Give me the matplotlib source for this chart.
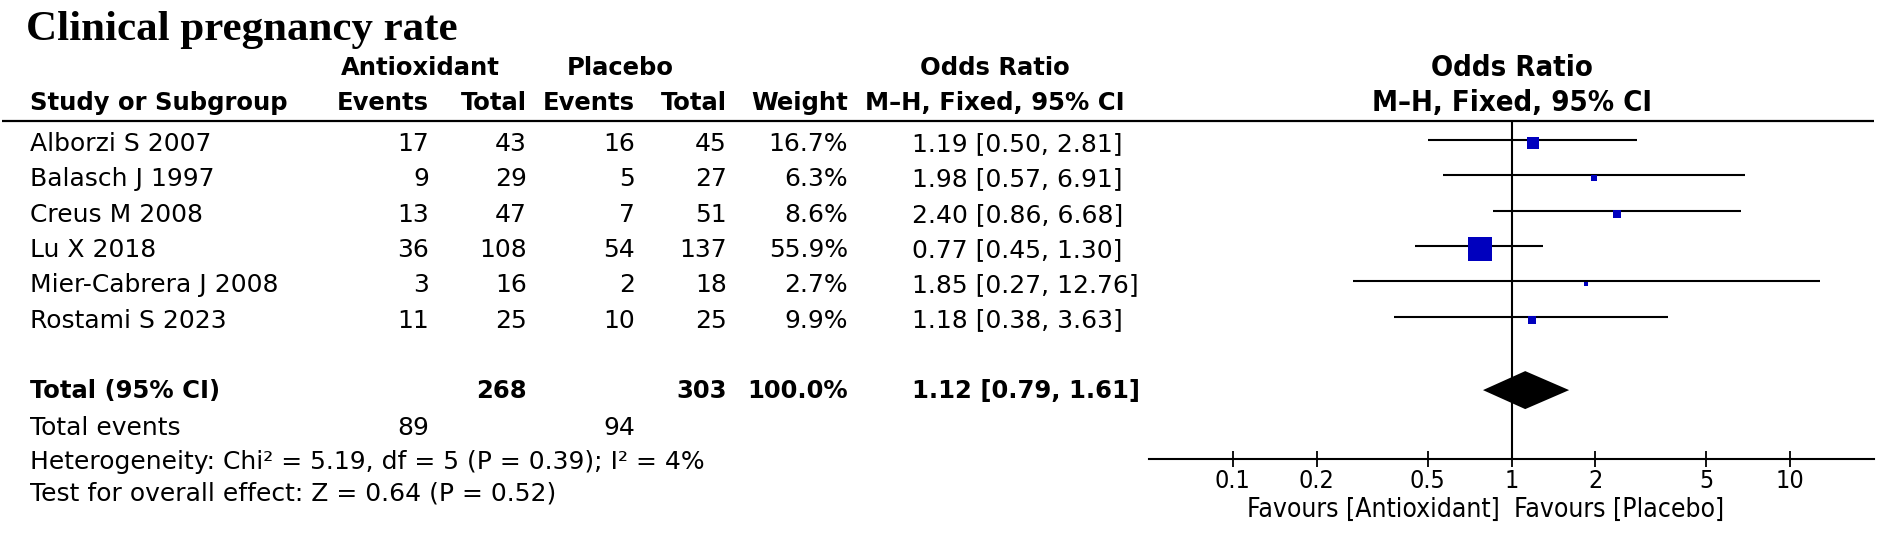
import matplotlib
matplotlib.use("Agg")
import matplotlib.pyplot as plt
import matplotlib.transforms as mtransforms

# ---------------- data ----------------
title = "Clinical pregnancy rate"
studies = ["Alborzi S 2007", "Balasch J 1997", "Creus M 2008", "Lu X 2018",
           "Mier-Cabrera J 2008", "Rostami S 2023"]
events_anti = [17, 9, 13, 36, 3, 11]
total_anti = [43, 29, 47, 108, 16, 25]
events_plac = [16, 5, 7, 54, 2, 10]
total_plac = [45, 27, 51, 137, 18, 25]
weights = [16.7, 6.3, 8.6, 55.9, 2.7, 9.9]
or_est = [1.19, 1.98, 2.40, 0.77, 1.85, 1.18]
ci_lo = [0.50, 0.57, 0.86, 0.45, 0.27, 0.38]
ci_hi = [2.81, 6.91, 6.68, 1.30, 12.76, 3.63]

total_n_anti = 268
total_n_plac = 303
total_weight = 100.0
total_or = 1.12
total_lo = 0.79
total_hi = 1.61
total_ev_anti = 89
total_ev_plac = 94
heterogeneity = "Heterogeneity: Chi\u00b2 = 5.19, df = 5 (P = 0.39); I\u00b2 = 4%"
overall = "Test for overall effect: Z = 0.64 (P = 0.52)"
xticks = [0.1, 0.2, 0.5, 1, 2, 5, 10]
xtick_labels = ["0.1", "0.2", "0.5", "1", "2", "5", "10"]
favours_left = "Favours [Antioxidant]"
favours_right = "Favours [Placebo]"

# ---------------- layout (pixels) ----------------
W, H = 1902, 535
DPI = 100
fig = plt.figure(figsize=(W / DPI, H / DPI), dpi=DPI)
fig.patch.set_facecolor("white")
ax0 = fig.add_axes([0, 0, 1, 1])
ax0.set_xlim(0, W)
ax0.set_ylim(H, 0)
ax0.axis("off")

row0 = 140.0
row_h = 35.3
txt_off = 4.0
header1_y = 68
header2_y = 103
line_y = 121
axis_y = 459
plot_l, plot_r = 1149, 1874

x_name = 30
x_ev_a = 429
x_tot_a = 527
x_ev_p = 635
x_tot_p = 727
x_w = 848
x_ci = 912
x_ci_hdr_r = 1125

FS = 18
FSB = 17.5
reg = dict(fontsize=FS, family="DejaVu Sans", va="center")
bold = dict(fontsize=FSB, family="DejaVu Sans", fontweight="bold", va="center")
cond = dict(fontsize=19, family="DejaVu Sans", fontstretch="condensed", va="center")

# title
ax0.text(26, 40, title, fontsize=31, family="Liberation Serif", fontweight="bold",
         va="baseline", ha="left")

# headers
ax0.text(420, header1_y, "Antioxidant", ha="center", **bold)
ax0.text(620, header1_y, "Placebo", ha="center", **bold)
ax0.text(995, header1_y, "Odds Ratio", ha="center", **bold)
ax0.text(x_name, header2_y, "Study or Subgroup", ha="left", **bold)
ax0.text(x_ev_a, header2_y, "Events", ha="right", **bold)
ax0.text(x_tot_a, header2_y, "Total", ha="right", **bold)
ax0.text(x_ev_p, header2_y, "Events", ha="right", **bold)
ax0.text(x_tot_p, header2_y, "Total", ha="right", **bold)
ax0.text(x_w, header2_y, "Weight", ha="right", **bold)
ax0.text(x_ci_hdr_r, header2_y, "M\u2013H, Fixed, 95% CI", ha="right", **bold)
ax0.plot([2, plot_r], [line_y, line_y], color="black", lw=1.6, solid_capstyle="butt")

# study rows
for i, s in enumerate(studies):
    y = row0 + i * row_h + txt_off
    ax0.text(x_name, y, s, ha="left", **reg)
    ax0.text(x_ev_a, y, str(events_anti[i]), ha="right", **reg)
    ax0.text(x_tot_a, y, str(total_anti[i]), ha="right", **reg)
    ax0.text(x_ev_p, y, str(events_plac[i]), ha="right", **reg)
    ax0.text(x_tot_p, y, str(total_plac[i]), ha="right", **reg)
    ax0.text(x_w, y, f"{weights[i]:.1f}%", ha="right", **reg)
    ax0.text(x_ci, y, f"{or_est[i]:.2f} [{ci_lo[i]:.2f}, {ci_hi[i]:.2f}]", ha="left", **reg)

n = len(studies)
y_tot = row0 + (n + 1) * row_h
yt = y_tot + txt_off
ax0.text(x_name, yt, "Total (95% CI)", ha="left", **bold)
ax0.text(x_tot_a, yt, str(total_n_anti), ha="right", **bold)
ax0.text(x_tot_p, yt, str(total_n_plac), ha="right", **bold)
ax0.text(x_w, yt, f"{total_weight:.1f}%", ha="right", **bold)
ax0.text(x_ci, yt, f"{total_or:.2f} [{total_lo:.2f}, {total_hi:.2f}]", ha="left", **bold)

y_ev = 428
ax0.text(x_name, y_ev, "Total events", ha="left", **reg)
ax0.text(x_ev_a, y_ev, str(total_ev_anti), ha="right", **reg)
ax0.text(x_ev_p, y_ev, str(total_ev_plac), ha="right", **reg)
ax0.text(x_name, 462, heterogeneity, ha="left", **reg)
ax0.text(x_name, 494, overall, ha="left", **reg)

# ---------------- forest plot ----------------
ax = fig.add_axes([plot_l / W, (H - axis_y) / H, (plot_r - plot_l) / W, (axis_y - line_y) / H])
ax.set_xscale("log")
ax.set_xlim(0.05, 20)
ax.set_ylim(axis_y, line_y)
ax.patch.set_alpha(0)
for sp in ["top", "left", "right"]:
    ax.spines[sp].set_visible(False)
ax.spines["bottom"].set_linewidth(1.5)
ax.set_yticks([])
ax.set_xticks(xticks)
ax.set_xticklabels(xtick_labels)
ax.minorticks_off()
ax.tick_params(axis="x", direction="inout", length=11, width=1.3, pad=2,
               labelsize=18)
for lab in ax.get_xticklabels():
    lab.set_fontstretch("condensed")
ax.axvline(1, color="black", lw=1.5)

# plot headers centred on the line of no effect
btr = mtransforms.blended_transform_factory(ax.transData, ax0.transData)
hdr = dict(cond, fontsize=21, fontweight="bold")
ax0.text(1, header1_y, "Odds Ratio", ha="center", transform=btr, **hdr)
ax0.text(1, header2_y, "M\u2013H, Fixed, 95% CI", ha="center", transform=btr, **hdr)

for i in range(n):
    y = row0 + i * row_h
    ax.hlines(y, ci_lo[i], ci_hi[i], color="black", lw=1.5)
    side_px = 24.0 * (weights[i] / max(weights)) ** 0.6
    ax.plot([or_est[i]], [y + 3], marker="s", linestyle="none",
            markersize=side_px * 72 / DPI, color="#0000BE", markeredgewidth=0)

h = 19
ax.fill([total_lo, total_or, total_hi, total_or],
        [y_tot + 3, y_tot + 3 - h, y_tot + 3, y_tot + 3 + h], color="black", lw=0)

ax0.text(1500, 510, favours_left, ha="right", **cond)
ax0.text(1514, 510, favours_right, ha="left", **cond)

fig.savefig("out.png", dpi=DPI, facecolor="white")
